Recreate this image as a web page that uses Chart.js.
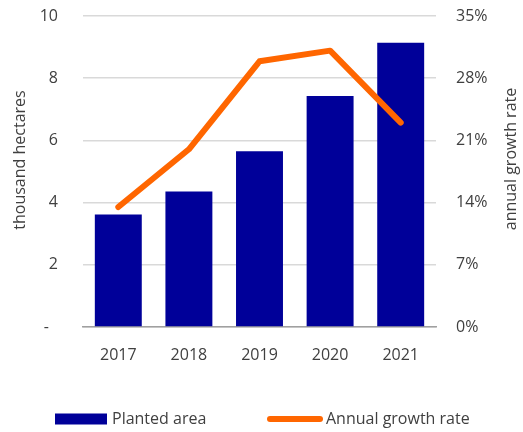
<!DOCTYPE html>
<html>
<head>
<meta charset="utf-8">
<script src="https://cdn.jsdelivr.net/npm/chart.js@4/dist/chart.umd.min.js"></script>
<style>
html,body{margin:0;padding:0;background:#fff;}
#wrap{width:523px;height:432px;position:relative;}
</style>
</head>
<body>
<div id="wrap"><canvas id="c" width="523" height="432"></canvas></div>
<script>
const categories = ['2017', '2018', '2019', '2020', '2021'];
const plantedArea = [3.62, 4.36, 5.65, 7.43, 9.14];
const growthRate = [13.5, 20.0, 29.9, 31.1, 23.0];
const leftTicks = [0, 2, 4, 6, 8, 10];
const rightTicks = [0, 7, 14, 21, 28, 35];
const seriesNames = ['Planted area', 'Annual growth rate'];
const axisTitles = ['thousand hectares', 'annual growth rate'];

const FONT = '"Open Sans", "Noto Sans", sans-serif';
const TEXT = '#404040';
const BAR = '#000099';
const LINE = '#FF6600';

const extras = {
  id: 'extras',
  afterDraw(chart) {
    const ctx = chart.ctx;
    ctx.save();
    ctx.fillStyle = TEXT;
    ctx.font = '16px ' + FONT;
    ctx.textAlign = 'center';
    ctx.textBaseline = 'middle';
    // axis titles
    ctx.save();
    ctx.translate(20, 160);
    ctx.rotate(-Math.PI / 2);
    ctx.fillText(axisTitles[0], 0, 0);
    ctx.restore();
    ctx.save();
    ctx.translate(511, 159);
    ctx.rotate(-Math.PI / 2);
    ctx.fillText(axisTitles[1], 0, 0);
    ctx.restore();
    // legend
    const ly = 419;
    const ds0 = chart.data.datasets[0];
    const ds1 = chart.data.datasets[1];
    ctx.fillStyle = ds0.backgroundColor;
    ctx.fillRect(55, ly - 5.5, 52, 11);
    ctx.strokeStyle = ds1.borderColor;
    ctx.lineWidth = 6;
    ctx.lineCap = 'round';
    ctx.beginPath();
    ctx.moveTo(270, ly);
    ctx.lineTo(320, ly);
    ctx.stroke();
    ctx.fillStyle = TEXT;
    ctx.textAlign = 'left';
    ctx.fillText(ds0.label, 112, ly);
    ctx.fillText(ds1.label, 326, ly);
    ctx.restore();
  }
};

function fixVertical(width) {
  return function (s) {
    s.width = width;
    s.paddingTop = 8;
    s.paddingBottom = 8;
  };
}

new Chart(document.getElementById('c'), {
  data: {
    labels: categories,
    datasets: [
      {
        type: 'bar',
        label: seriesNames[0],
        data: plantedArea,
        backgroundColor: BAR,
        borderWidth: 0,
        yAxisID: 'y',
        order: 1,
        categoryPercentage: 1,
        barPercentage: 0.665
      },
      {
        type: 'line',
        label: seriesNames[1],
        data: growthRate,
        borderColor: LINE,
        backgroundColor: LINE,
        borderWidth: 6,
        borderCapStyle: 'round',
        borderJoinStyle: 'round',
        pointRadius: 0,
        tension: 0,
        yAxisID: 'y1',
        order: 0
      }
    ]
  },
  options: {
    responsive: false,
    animation: false,
    layout: { padding: { top: 16, bottom: 45, left: 0, right: 0 } },
    plugins: { legend: { display: false }, tooltip: { enabled: false } },
    scales: {
      x: {
        grid: { display: false },
        border: { display: true, color: '#a0a0a0', width: 1.5 },
        ticks: { color: TEXT, font: { family: FONT, size: 16 }, padding: 11, maxRotation: 0 },
        afterFit(s) { s.height = 60; s.paddingLeft = 0; s.paddingRight = 0; }
      },
      y: {
        position: 'left',
        min: 0, max: 10,
        afterBuildTicks(s) { s.ticks = leftTicks.map(v => ({ value: v })); },
        grid: { color: '#d9d9d9', lineWidth: 1.5, drawTicks: false },
        border: { display: false },
        ticks: {
          color: TEXT, font: { family: FONT, size: 16 }, padding: 25,
          callback: v => v === 0 ? '-\u2007' : String(v)
        },
        afterFit: fixVertical(83)
      },
      y1: {
        position: 'right',
        min: 0, max: 35,
        afterBuildTicks(s) { s.ticks = rightTicks.map(v => ({ value: v })); },
        grid: { display: false, drawTicks: false },
        border: { display: false },
        ticks: {
          color: TEXT, font: { family: FONT, size: 16 }, padding: 20,
          callback: v => v + '%'
        },
        afterFit: fixVertical(87)
      }
    }
  },
  plugins: [extras]
});
</script>
</body>
</html>
